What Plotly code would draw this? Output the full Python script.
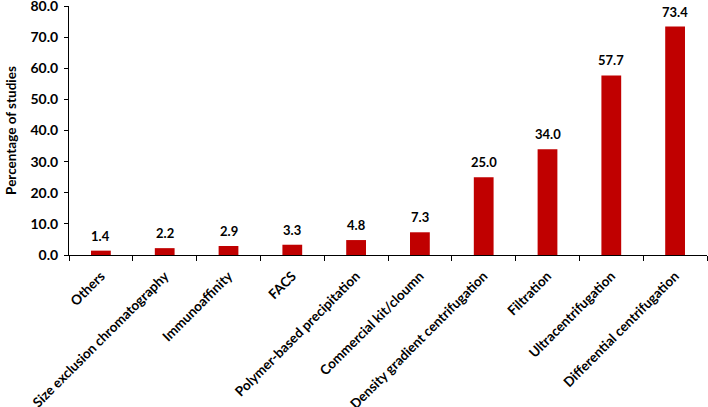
import plotly.graph_objects as go

categories = ["Others", "Size exclusion chromatography", "Immunoaffinity", "FACS",
              "Polymer-based precipitation", "Commercial kit/cloumn",
              "Density gradient centrifugation", "Filtration", "Ultracentrifugation",
              "Differential centrifugation"]
values = [1.4, 2.2, 2.9, 3.3, 4.8, 7.3, 25.0, 34.0, 57.7, 73.4]
y_ticks = [0, 10, 20, 30, 40, 50, 60, 70, 80]
y_tick_labels = ["%.1f" % v for v in y_ticks]
value_labels = ["%.1f" % v for v in values]

font_family = "Lato, Open Sans, sans-serif"

fig = go.Figure(go.Bar(
    x=categories, y=values,
    marker=dict(color="#C00000", line=dict(width=0)),
    width=0.31,
    cliponaxis=False,
))

for c, v, t in zip(categories, values, value_labels):
    fig.add_annotation(x=c, y=v, text=t, showarrow=False, yanchor="bottom",
                       yshift=5,
                       font=dict(family=font_family, size=13, color="black", weight="bold"))

fig.update_layout(
    width=708, height=407,
    margin=dict(l=69, r=1, t=6, b=152, autoexpand=False),
    plot_bgcolor="white", paper_bgcolor="white",
    showlegend=False,
    font=dict(family=font_family, color="black"),
)
fig.update_xaxes(
    type="category", showgrid=False, showline=True, linecolor="black", linewidth=1,
    ticks="outside", ticklen=5, tickcolor="black", tickson="boundaries",
    tickangle=-45, automargin=False, ticklabelstandoff=7,
    tickfont=dict(family=font_family, size=13.5, color="black", weight="bold"),
)
fig.update_yaxes(
    range=[0, 80], tickvals=y_ticks, ticktext=y_tick_labels,
    showgrid=False, showline=True, linecolor="black", linewidth=1,
    ticks="outside", ticklen=4, tickcolor="black", zeroline=False,
    automargin=False, ticklabeloverflow="allow", ticklabelstandoff=3,
    tickfont=dict(family=font_family, size=14, color="black", weight="bold"),
    title=dict(text="Percentage of studies", standoff=10,
               font=dict(family=font_family, size=13.5, color="black", weight="bold")),
)

fig.write_html("out.html", config={"displayModeBar": False},
               post_script="document.body.style.margin='0';")
